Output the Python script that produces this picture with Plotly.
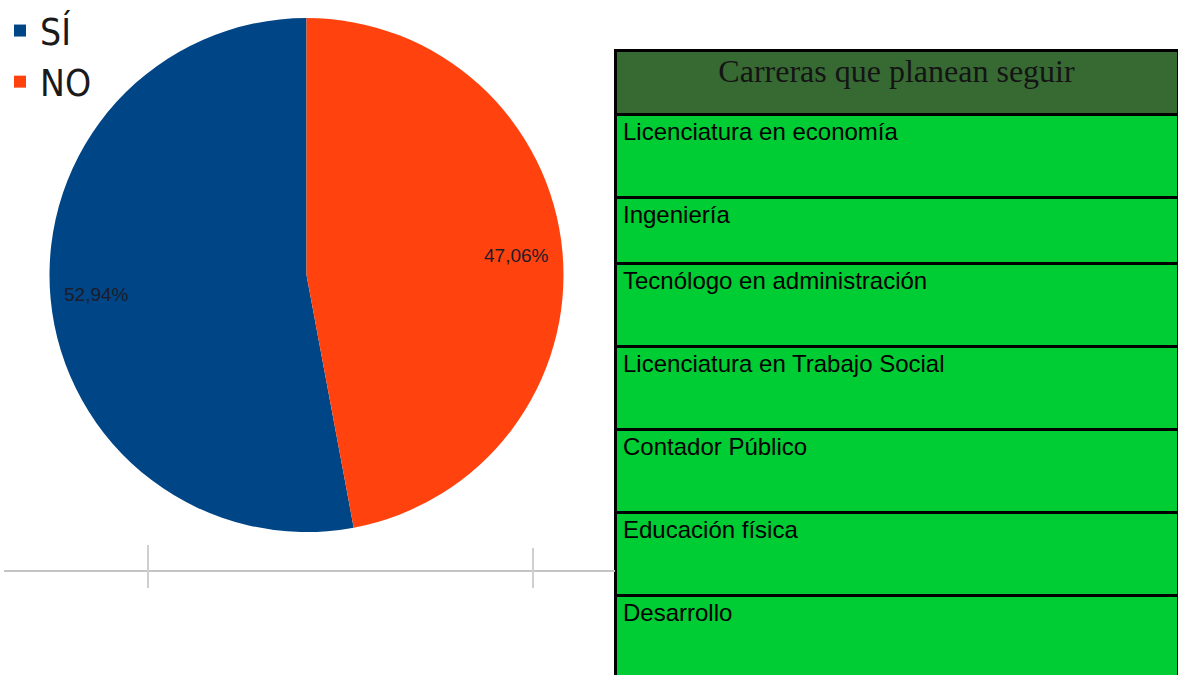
import math
import plotly.graph_objects as go

# Survey answers (percent of respondents)
answers = ["SÍ", "NO"]
shares = [52.94, 47.06]
slice_colors = ["#004586", "#FF420E"]

# Careers the students plan to follow
table_title = "Carreras que planean seguir"
careers = [
    "Licenciatura en economía",
    "Ingeniería",
    "Tecnólogo en administración",
    "Licenciatura en Trabajo Social",
    "Contador Público",
    "Educación física",
    "Desarrollo",
]

W, H = 1178, 675


def px_x(x):
    return x / W


def px_y(y):
    return 1 - y / H


fig = go.Figure()

# ---- pie -------------------------------------------------------------
# the first answer fills the left side, ending at 12 o'clock
total = sum(shares)
cx, cy, R = 306.5, 275.0, 257.0
fig.add_trace(go.Pie(
    labels=answers,
    values=shares,
    sort=False,
    direction="clockwise",
    rotation=-360 * shares[0] / total,
    marker=dict(colors=slice_colors, line=dict(width=0)),
    textinfo="none",
    hoverinfo="label+percent",
    domain=dict(x=[px_x(cx - R), px_x(cx + R)], y=[px_y(cy + R), px_y(cy - R)]),
))

# percentages on each slice's bisector, near the rim
acc = 0.0
label_r = 0.82 * R
annotations = []
for v in shares:
    mid = (acc + v / 2) / total
    acc += v
    theta = 2 * math.pi * mid  # measured counter-clockwise from 12 o'clock
    lx = cx - label_r * math.sin(theta)
    ly = cy - label_r * math.cos(theta)
    annotations.append(dict(
        x=px_x(lx), y=px_y(ly), xref="paper", yref="paper",
        text=f"{v:.2f}".replace(".", ",") + "%",
        showarrow=False,
        font=dict(family="Liberation Sans, Arial", size=19, color="#1c1c2a"),
        xanchor="center", yanchor="middle",
    ))

# ---- table -----------------------------------------------------------
# three stacked tables so the rows can have different heights
tx0 = 615
header_top, title_h = 50, 64
cell_fill = "#00CC33"
cell_font = dict(family="Liberation Sans, Arial", size=24, color="black")
title_font = dict(family="Liberation Serif, Times New Roman", size=32, color="#141414")
line_style = dict(color="black", width=3)

blocks = [
    # (header text, header height, header fill, header font, body rows, body row height)
    ([table_title], title_h, "#376933", title_font, careers[:1], 83),
    (careers[1:2], 66, cell_fill, cell_font, [], 66),
    (careers[2:3], 83, cell_fill, cell_font, careers[3:], 83),
]

top = header_top
for i, (head, head_h, head_fill, head_font, rows, row_h) in enumerate(blocks):
    bottom = top + head_h + row_h * len(rows)
    fig.add_trace(go.Table(
        domain=dict(x=[px_x(tx0), 1.0], y=[max(0.0, px_y(bottom + 2)), px_y(top)]),
        columnwidth=[1],
        header=dict(values=head, height=head_h, fill_color=head_fill, line=line_style,
                    align="center" if i == 0 else "left", font=head_font),
        cells=dict(values=[rows], height=row_h, fill_color=cell_fill, line=line_style,
                   align="left", font=cell_font),
    ))
    top = bottom

# faint axis remnants under the pie
shapes = [
    dict(type="line", xref="paper", yref="paper", x0=px_x(4), x1=px_x(615),
         y0=px_y(571), y1=px_y(571), line=dict(color="#c4c4c4", width=2)),
    dict(type="line", xref="paper", yref="paper", x0=px_x(148), x1=px_x(148),
         y0=px_y(545), y1=px_y(588), line=dict(color="#cfcfcf", width=2)),
    dict(type="line", xref="paper", yref="paper", x0=px_x(533), x1=px_x(533),
         y0=px_y(548), y1=px_y(588), line=dict(color="#cfcfcf", width=2)),
]

fig.update_layout(
    width=W, height=H,
    margin=dict(l=0, r=0, t=0, b=0),
    paper_bgcolor="white",
    plot_bgcolor="white",
    showlegend=True,
    legend=dict(
        x=0.0, y=1.0, xanchor="left", yanchor="top",
        font=dict(family="DejaVu Sans Condensed, Liberation Sans", size=37, color="#1a1a1a"),
        bgcolor="rgba(0,0,0,0)",
    ),
    annotations=annotations,
    shapes=shapes,
)

fig.write_html("out.html")
